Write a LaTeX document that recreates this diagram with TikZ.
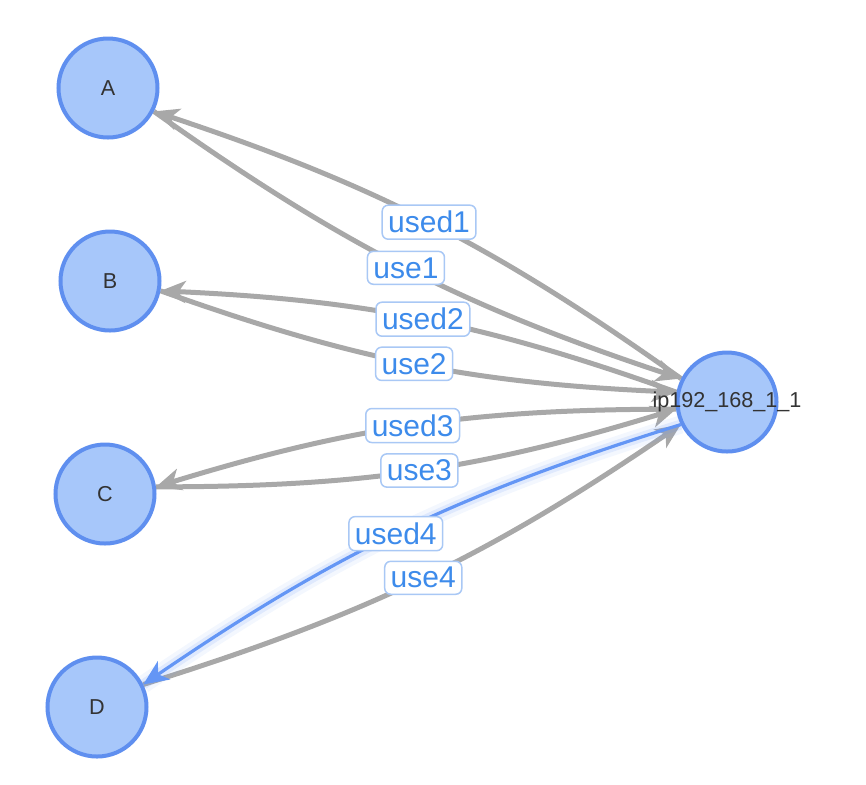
\documentclass[tikz,border=0pt]{standalone}
\usepackage{fontspec}
\setmainfont{Liberation Sans}
\usepackage{tikz}
\usetikzlibrary{arrows.meta,positioning,backgrounds}
\definecolor{hostfill}{HTML}{A7C7FA}
\definecolor{hostline}{HTML}{5F8FEF}
\definecolor{wire}{HTML}{A8A8A8}
\definecolor{pick}{HTML}{6496F5}
\definecolor{tagline}{HTML}{A9C8F5}
\definecolor{tagtext}{HTML}{3D8BEB}
\definecolor{ink}{HTML}{333333}
\tikzset{
  host/.style={circle, draw=hostline, fill=hostfill, line width=2pt, minimum size=49.5pt,
               inner sep=0pt, text=ink, font=\fontsize{10.8}{12}\selectfont},
  tag/.style={rectangle, rounded corners=3pt, draw=tagline, fill=white, line width=0.75pt,
              inner sep=3pt, text=tagtext, font=\fontsize{15}{16}\selectfont},
  flow/.style={-{Stealth[length=12.5pt, width=11pt, inset=3.5pt]}, draw=wire, line width=2.5pt},
  picked/.style={-{Stealth[length=12.5pt, width=11pt, inset=3.5pt]}, draw=pick, line width=1.6pt,
                 preaction={draw=pick, -, line width=9pt, opacity=0.08},
                 preaction={draw=pick, -, line width=5pt, opacity=0.14}}
}
\begin{document}
\begin{tikzpicture}[x=0.5pt, y=-0.5pt]
  \useasboundingbox (0,0) rectangle (866,784);
  \node[host] (A) at (108,88) {A};
  \node[host] (B) at (110,281) {B};
  \node[host] (C) at (105,494) {C};
  \node[host] (D) at (97,707) {D};
  \node[host, label={[text=ink, font=\fontsize{10.8}{12}\selectfont]center:ip192\_168\_1\_1}] (ip) at (727,402) {};
  \begin{scope}[on background layer]
    \draw[flow] (ip.153) to[bend right=8.5] (A.-27);
    \draw[flow] (A.-27) to[bend right=8.5] (ip.153);
    \draw[flow] (ip.169) to[bend right=8.5] (B.-11);
    \draw[flow] (B.-11) to[bend right=8.5] (ip.169);
    \draw[flow] (ip.188) to[bend right=8.5] (C.8);
    \draw[flow] (C.8) to[bend right=8.5] (ip.188);
    \draw[flow] (D.26) to[bend right=8.5] (ip.206);
    \draw[picked] (ip.206) to[bend right=8.5] (D.26);
  \end{scope}
  \path (ip.153) to[bend right=8.5] node[tag, pos=0.5] {used1} (A.-27);
  \path (A.-27) to[bend right=8.5] node[tag, pos=0.5] {use1} (ip.153);
  \path (ip.169) to[bend right=8.5] node[tag, pos=0.5] {used2} (B.-11);
  \path (B.-11) to[bend right=8.5] node[tag, pos=0.5] {use2} (ip.169);
  \path (ip.188) to[bend right=8.5] node[tag, pos=0.5] {used3} (C.8);
  \path (C.8) to[bend right=8.5] node[tag, pos=0.5] {use3} (ip.188);
  \path (ip.206) to[bend right=8.5] node[tag, pos=0.51] {used4} (D.26);
  \path (D.26) to[bend right=8.5] node[tag, pos=0.5] {use4} (ip.206);
\end{tikzpicture}
\end{document}
